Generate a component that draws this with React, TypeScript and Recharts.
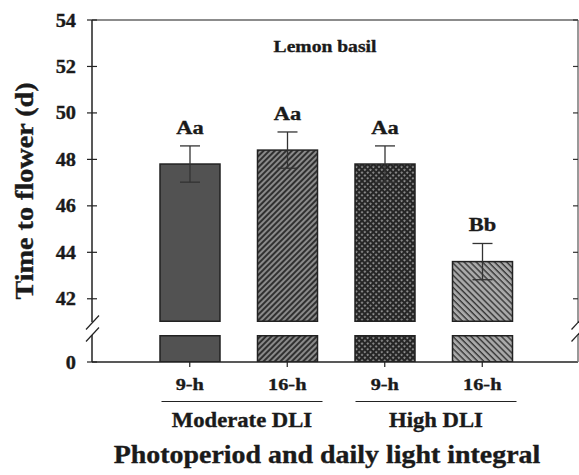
import React from "react";
import {
  ComposedChart,
  Bar,
  Cell,
  XAxis,
  YAxis,
  ErrorBar,
  LabelList,
  ReferenceLine,
} from "recharts";

const photoperiods = ["9-h", "16-h", "9-h", "16-h"];
const dliGroups = ["Moderate DLI", "High DLI"];
const meanDays = [47.8, 48.4, 47.8, 43.6];
const seDays = [0.78, 0.78, 0.78, 0.78];
const letters = ["Aa", "Aa", "Aa", "Bb"];
const upperTicks = [42, 44, 46, 48, 50, 52, 54];
const lowerTicks = [0];

const upperDomain: [number, number] = [41, 54];
const lowerDomain: [number, number] = [0, 2];

const rows = photoperiods.map((p, i) => ({
  photoperiod: p,
  days: meanDays[i],
  se: seDays[i],
  letter: letters[i],
}));

const FONT = "'Liberation Serif', 'Times New Roman', serif";
const INK = "#1a1a1a";
const W = 579;
const H = 475;

// bold serif text, slightly widened like the printed figure
function WideText({
  x,
  y,
  size,
  sx = 1.1,
  anchor = "middle",
  rotate = 0,
  children,
}: any) {
  return (
    <g transform={`translate(${x},${y}) rotate(${rotate}) scale(${sx},1)`}>
      <text
        textAnchor={anchor}
        fontFamily={FONT}
        fontWeight="bold"
        fontSize={size}
        fill={INK}
        stroke={INK}
        strokeWidth={0.35}
      >
        {children}
      </text>
    </g>
  );
}

function LeftTick({ x, y, payload }: any) {
  return (
    <g>
      <line x1={x - 5} x2={x + 5} y1={y} y2={y} stroke="#222" strokeWidth={1.2} />
      <WideText x={x - 16} y={y + 6.5} size={18.5} sx={1.1} anchor="end">
        {payload.value}
      </WideText>
    </g>
  );
}

function RightTick({ x, y }: any) {
  return <line x1={x - 5} x2={x} y1={y} y2={y} stroke="#333" strokeWidth={1.2} />;
}

function PeriodTick({ x, y, payload }: any) {
  return (
    <WideText x={x} y={y + 21} size={17.5} sx={1.16}>
      {payload.value}
    </WideText>
  );
}

function LetterLabel(props: any) {
  const vb = props.viewBox ?? props;
  const i = props.index;
  const pxPerDay = vb.height / (meanDays[i] - upperDomain[0]);
  const errTop = vb.y - seDays[i] * pxPerDay;
  return (
    <WideText x={vb.x + vb.width / 2} y={errTop - 12} size={19} sx={1.18}>
      {letters[i]}
    </WideText>
  );
}

// upper segment: keep the whole bottom edge inside the clip
function UpperBar(props: any) {
  const { x, y, width, height, fill } = props;
  return (
    <rect
      x={x}
      y={y}
      width={width}
      height={Math.max(height - 0.75, 0)}
      fill={fill}
      stroke="#222"
      strokeWidth={1.5}
    />
  );
}

// lower segment: bar is cut at the top of the small panel
function LowerBar(props: any) {
  const { x, y, width, height, fill, background } = props;
  const top = (background ? background.y : y) + 0.75;
  const bottom = y + height;
  return (
    <rect
      x={x}
      y={top}
      width={width}
      height={Math.max(bottom - top, 0)}
      fill={fill}
      stroke="#222"
      strokeWidth={1.5}
    />
  );
}

function Patterns() {
  return (
    <defs>
      <pattern id="fill0" patternUnits="userSpaceOnUse" width={4} height={4}>
        <rect width={4} height={4} fill="#525252" />
      </pattern>
      <pattern
        id="fill1"
        patternUnits="userSpaceOnUse"
        width={4}
        height={4}
        patternTransform="rotate(45)"
      >
        <rect width={4} height={4} fill="#8a8a8a" />
        <line x1={1} x2={1} y1={0} y2={4} stroke="#2b2b2b" strokeWidth={1.9} />
      </pattern>
      <pattern
        id="fill2"
        patternUnits="userSpaceOnUse"
        width={4}
        height={4}
        patternTransform="rotate(45)"
      >
        <rect width={4} height={4} fill="#262626" />
        <rect x={1.2} y={1.2} width={1.8} height={1.8} fill="#9a9a9a" />
      </pattern>
      <pattern
        id="fill3"
        patternUnits="userSpaceOnUse"
        width={4.3}
        height={4.3}
        patternTransform="rotate(-45)"
      >
        <rect width={4.3} height={4.3} fill="#a9a9a9" />
        <line x1={1} x2={1} y1={0} y2={4.3} stroke="#2b2b2b" strokeWidth={1.3} />
      </pattern>
    </defs>
  );
}

function BreakMark({ cx, cy }: { cx: number; cy: number }) {
  return (
    <line
      x1={cx - 6.5}
      y1={cy + 7}
      x2={cx + 6.5}
      y2={cy - 7}
      stroke="#222"
      strokeWidth={1.2}
    />
  );
}

export default function App() {
  return (
    <div
      style={{
        position: "absolute",
        left: 0,
        top: 0,
        width: W,
        height: H,
        background: "#fff",
      }}
    >
      {/* 41–54 d panel */}
      <div style={{ position: "absolute", left: 0, top: 0 }}>
        <ComposedChart
          width={W}
          height={322}
          data={rows}
          barSize={60}
          margin={{ top: 20, right: 0, bottom: 0, left: 0 }}
        >
          <Patterns />
          <XAxis dataKey="photoperiod" hide padding={{ left: 49, right: 47 }} />
          <YAxis
            yAxisId="l"
            width={92}
            domain={upperDomain}
            ticks={upperTicks}
            interval={0}
            allowDataOverflow
            tickLine={false}
            tickSize={0}
            tickMargin={0}
            tick={<LeftTick />}
            axisLine={{ stroke: "#222", strokeWidth: 1.5 }}
          />
          <YAxis
            yAxisId="r"
            orientation="right"
            width={1}
            domain={upperDomain}
            ticks={upperTicks}
            interval={0}
            allowDataOverflow
            tickLine={false}
            tickSize={0}
            tickMargin={0}
            tick={<RightTick />}
            axisLine={{ stroke: "#777", strokeWidth: 1.5 }}
          />
          <ReferenceLine yAxisId="l" y={54} stroke="#666" strokeWidth={1.5} />
          <Bar
            yAxisId="l"
            dataKey="days"
            isAnimationActive={false}
            shape={<UpperBar />}
          >
            {rows.map((_, i) => (
              <Cell key={i} fill={`url(#fill${i})`} />
            ))}
            <ErrorBar
              dataKey="se"
              direction="y"
              width={10}
              stroke="#333"
              strokeWidth={1.3}
              isAnimationActive={false}
            />
            <LabelList dataKey="letter" content={<LetterLabel />} />
          </Bar>
        </ComposedChart>
      </div>

      {/* 0 d panel with the category axis */}
      <div style={{ position: "absolute", left: 0, top: 335 }}>
        <ComposedChart
          width={W}
          height={140}
          data={rows}
          barSize={60}
          margin={{ top: 0, right: 0, bottom: 83, left: 0 }}
        >
          <XAxis
            dataKey="photoperiod"
            height={30}
            padding={{ left: 49, right: 47 }}
            interval={0}
            tickSize={5}
            tickLine={{ stroke: "#222", strokeWidth: 1.2 }}
            axisLine={{ stroke: "#222", strokeWidth: 1.5 }}
            tick={<PeriodTick />}
          />
          <YAxis
            yAxisId="l"
            width={92}
            domain={lowerDomain}
            ticks={lowerTicks}
            interval={0}
            allowDataOverflow
            tickLine={false}
            tickSize={0}
            tickMargin={0}
            tick={<LeftTick />}
            axisLine={{ stroke: "#222", strokeWidth: 1.5 }}
          />
          <YAxis
            yAxisId="r"
            orientation="right"
            width={1}
            domain={lowerDomain}
            allowDataOverflow
            tick={false}
            tickLine={false}
            axisLine={{ stroke: "#777", strokeWidth: 1.5 }}
          />
          <Bar
            yAxisId="l"
            dataKey="days"
            isAnimationActive={false}
            shape={<LowerBar />}
          >
            {rows.map((_, i) => (
              <Cell key={i} fill={`url(#fill${i})`} />
            ))}
          </Bar>
        </ComposedChart>
      </div>

      {/* titles, group labels and axis breaks */}
      <svg
        width={W}
        height={H}
        style={{ position: "absolute", left: 0, top: 0, pointerEvents: "none" }}
      >
        <WideText x={325} y={52} size={17.5} sx={1.12}>
          Lemon basil
        </WideText>
        <WideText x={33} y={191} size={24.5} sx={1.15} rotate={-90}>
          Time to flower (d)
        </WideText>

        <line x1={161.5} x2={322.5} y1={401.5} y2={401.5} stroke="#222" strokeWidth={1.2} />
        <line x1={355.5} x2={516.5} y1={401.5} y2={401.5} stroke="#222" strokeWidth={1.2} />
        <WideText x={242} y={427} size={21} sx={1.08}>
          {dliGroups[0]}
        </WideText>
        <WideText x={436} y={427} size={21} sx={1.08}>
          {dliGroups[1]}
        </WideText>

        <WideText x={327} y={463} size={24.5} sx={1.14}>
          Photoperiod and daily light integral
        </WideText>

        <BreakMark cx={92.5} cy={322.5} />
        <BreakMark cx={92.5} cy={334.5} />
        <BreakMark cx={578} cy={322.5} />
        <BreakMark cx={578} cy={334.5} />
      </svg>
    </div>
  );
}
